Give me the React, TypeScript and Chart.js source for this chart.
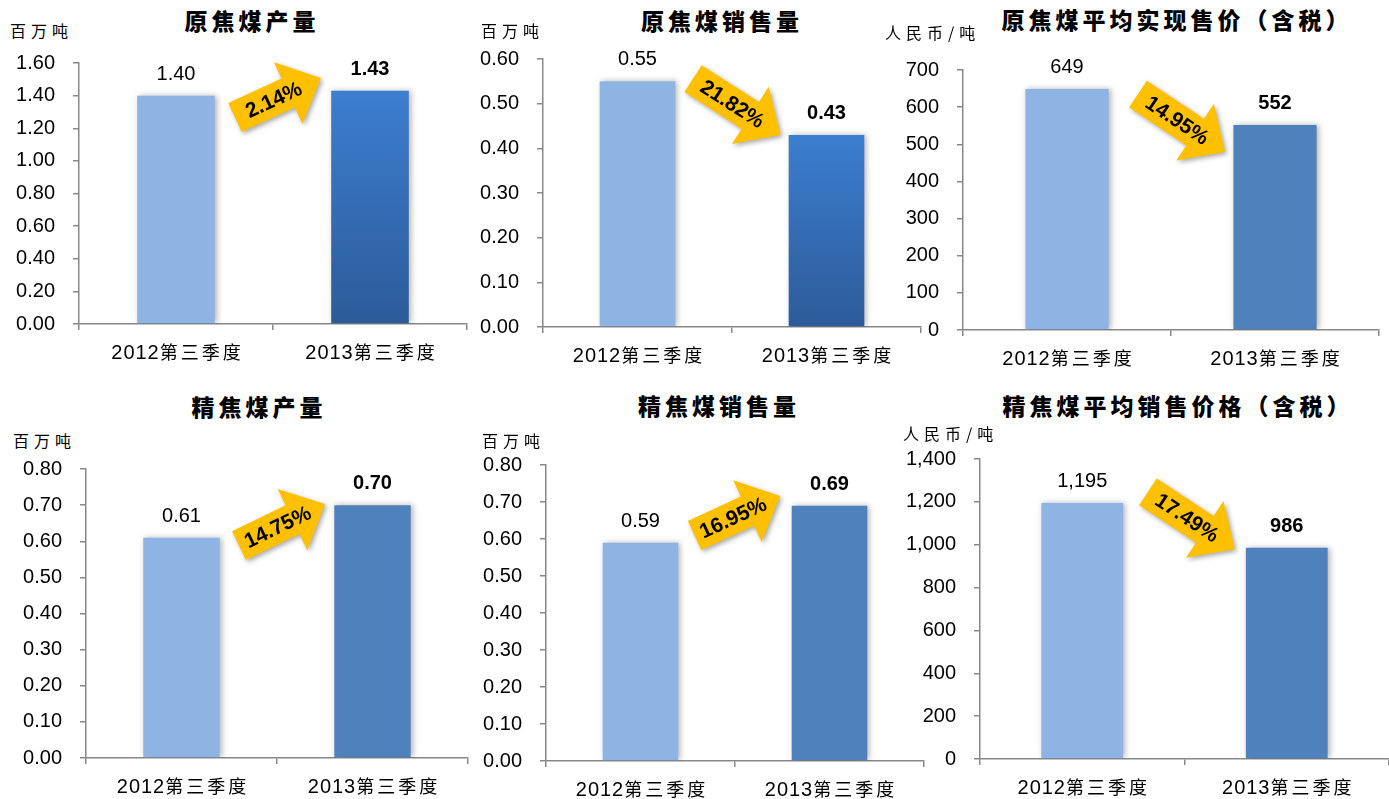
import React, { useEffect, useRef } from 'react';
import { Chart, registerables } from 'chart.js';

Chart.register(...registerables);

// ---------- data ----------
const categories = ['2012第三季度', '2013第三季度'];

const rawCoalOutput = [1.4, 1.43];
const rawCoalSales = [0.55, 0.43];
const rawCoalPrice = [649, 552];
const cleanCoalOutput = [0.61, 0.7];
const cleanCoalSales = [0.59, 0.69];
const cleanCoalPrice = [1195, 986];

const changeLabels = ['2.14%', '21.82%', '14.95%', '14.75%', '16.95%', '17.49%'];

const ticksRawOutput = ['0.00', '0.20', '0.40', '0.60', '0.80', '1.00', '1.20', '1.40', '1.60'];
const ticksRawSales = ['0.00', '0.10', '0.20', '0.30', '0.40', '0.50', '0.60'];
const ticksRawPrice = ['0', '100', '200', '300', '400', '500', '600', '700'];
const ticksClean = ['0.00', '0.10', '0.20', '0.30', '0.40', '0.50', '0.60', '0.70', '0.80'];
const ticksCleanPrice = ['0', '200', '400', '600', '800', '1,000', '1,200', '1,400'];

const titles = [
  '原焦煤产量',
  '原焦煤销售量',
  '原焦煤平均实现售价（含税）',
  '精焦煤产量',
  '精焦煤销售量',
  '精焦煤平均销售价格（含税）',
];
const units = ['百万吨', '百万吨', '人民币/吨', '百万吨', '百万吨', '人民币/吨'];

// arrow annotation anchors in data units: [tailIndex, tailValue, tipIndex, tipValue]
const arrowAnchors = [
  [0.304, 1.266, 0.747, 1.508],
  [0.294, 0.556, 0.757, 0.43],
  [0.341, 635, 0.76, 479],
  [0.301, 0.588, 0.751, 0.703],
  [0.286, 0.6095, 0.739, 0.716],
  [0.321, 1247, 0.746, 979],
];

// ---------- layout / styles ----------
type Layout = {
  axisX: number; right: number; top: number; zero: number;
  titleX: number; titleY: number; unitX: number; unitY: number;
};
const layouts: Layout[] = [
  { axisX: 79, right: 467, top: 63, zero: 324, titleX: 250, titleY: 20, unitX: 10, unitY: 30 },
  { axisX: 543, right: 921, top: 59, zero: 327, titleX: 720, titleY: 20, unitX: 481, unitY: 30 },
  { axisX: 963, right: 1379, top: 70, zero: 330, titleX: 1175, titleY: 19, unitX: 885, unitY: 32 },
  { axisX: 86, right: 468, top: 469, zero: 758, titleX: 257, titleY: 406, unitX: 13, unitY: 440 },
  { axisX: 546, right: 924, top: 465, zero: 761, titleX: 717, titleY: 405, unitX: 482, unitY: 440 },
  { axisX: 980, right: 1389, top: 459, zero: 759, titleX: 1176, titleY: 405, unitX: 903, unitY: 433 },
];

type Spec = {
  values: number[]; max: number; step: number; ticks: string[];
  decimals: number; gradient: boolean;
};
const specs: Spec[] = [
  { values: rawCoalOutput, max: 1.6, step: 0.2, ticks: ticksRawOutput, decimals: 2, gradient: true },
  { values: rawCoalSales, max: 0.6, step: 0.1, ticks: ticksRawSales, decimals: 2, gradient: true },
  { values: rawCoalPrice, max: 700, step: 100, ticks: ticksRawPrice, decimals: 0, gradient: false },
  { values: cleanCoalOutput, max: 0.8, step: 0.1, ticks: ticksClean, decimals: 2, gradient: false },
  { values: cleanCoalSales, max: 0.8, step: 0.1, ticks: ticksClean, decimals: 2, gradient: false },
  { values: cleanCoalPrice, max: 1400, step: 200, ticks: ticksCleanPrice, decimals: 0, gradient: false },
];

const LATIN = '"Liberation Sans", Arial, Helvetica, sans-serif';
const CJK = '"Noto Sans CJK SC", "Noto Sans", sans-serif';
const AXIS_COLOR = '#888888';
const BAR_LIGHT = '#8EB4E3';
const BAR_DARK = '#4F81BD';
const ARROW_COLOR = '#FFC000';
const YW = 76;
const PT = 16;
const XH = 40;

function fmt(v: number, decimals: number) {
  return decimals > 0
    ? v.toFixed(decimals)
    : v.toLocaleString('en-US');
}

function PanelChart({ index }: { index: number }) {
  const ref = useRef<HTMLCanvasElement | null>(null);
  const L = layouts[index];
  const S = specs[index];
  const PR = L.right >= 1389 ? 0 : 4;
  const left = L.axisX - YW;
  const top = L.top - PT;
  const width = YW + (L.right - L.axisX) + PR;
  const height = PT + (L.zero - L.top) + XH;

  useEffect(() => {
    if (!ref.current) return;
    const anchors = arrowAnchors[index];
    const change = changeLabels[index];

    const overlay = {
      id: 'overlay' + index,
      beforeDatasetsDraw(chart: any) {
        const c = chart.ctx;
        c.save();
        c.shadowColor = 'rgba(0,0,0,0.30)';
        c.shadowBlur = 6;
        c.shadowOffsetX = 2;
        c.shadowOffsetY = 0;
      },
      afterDatasetsDraw(chart: any) {
        chart.ctx.restore();
      },
      afterDraw(chart: any) {
        const c = chart.ctx as CanvasRenderingContext2D & { letterSpacing?: string };
        const xs = chart.scales.x;
        const ys = chart.scales.y;
        const meta = chart.getDatasetMeta(0);

        // value labels
        c.save();
        c.fillStyle = '#000';
        c.textAlign = 'center';
        c.textBaseline = 'alphabetic';
        meta.data.forEach((bar: any, i: number) => {
          c.font = (i === 1 ? 'bold ' : '') + '20px ' + LATIN;
          c.fillText(fmt(S.values[i], S.decimals), bar.x, bar.y - 16);
        });
        c.restore();

        // category labels
        c.save();
        c.fillStyle = '#000';
        c.textAlign = 'left';
        c.textBaseline = 'alphabetic';
        const baseY = xs.top + 27.5 + 7;
        categories.forEach((lab, i) => {
          const cx = xs.getPixelForValue(i);
          const m = lab.match(/^(\d+)(.*)$/);
          const a = m ? m[1] : '';
          const b = m ? m[2] : lab;
          c.font = '20px ' + LATIN;
          c.letterSpacing = '1px';
          const wa = c.measureText(a).width;
          c.font = '18px ' + CJK;
          c.letterSpacing = '3px';
          const wb = c.measureText(b).width - 3;
          const x0 = cx - (wa + wb) / 2;
          c.font = '20px ' + LATIN;
          c.letterSpacing = '1px';
          c.fillText(a, x0, baseY);
          c.font = '18px ' + CJK;
          c.letterSpacing = '3px';
          c.fillText(b, x0 + wa, baseY);
        });
        c.letterSpacing = '0px';
        c.restore();

        // change arrow
        const tx = xs.getPixelForValue(anchors[0]);
        const ty = ys.getPixelForValue(anchors[1]);
        const px = xs.getPixelForValue(anchors[2]);
        const py = ys.getPixelForValue(anchors[3]);
        const ang = Math.atan2(py - ty, px - tx);
        const len = Math.hypot(px - tx, py - ty);
        const bw = 32;
        const hw = 68;
        const hl = 36;
        c.save();
        c.translate(tx, ty);
        c.rotate(ang);
        c.beginPath();
        c.moveTo(0, -bw / 2);
        c.lineTo(len - hl, -bw / 2);
        c.lineTo(len - hl, -hw / 2);
        c.lineTo(len, 0);
        c.lineTo(len - hl, hw / 2);
        c.lineTo(len - hl, bw / 2);
        c.lineTo(0, bw / 2);
        c.closePath();
        c.shadowColor = 'rgba(0,0,0,0.35)';
        c.shadowBlur = 5;
        c.shadowOffsetX = 2;
        c.shadowOffsetY = 2;
        c.fillStyle = ARROW_COLOR;
        c.fill();
        c.shadowColor = 'rgba(0,0,0,0)';
        c.shadowBlur = 0;
        c.shadowOffsetX = 0;
        c.shadowOffsetY = 0;
        c.fillStyle = '#000';
        c.font = 'bold 21px ' + LATIN;
        c.textAlign = 'center';
        c.textBaseline = 'middle';
        c.fillText(change, len * 0.45, 1);
        c.restore();
      },
    };

    const chart = new Chart(ref.current, {
      type: 'bar',
      data: {
        labels: categories,
        datasets: [
          {
            data: S.values,
            backgroundColor: (ctx: any) => {
              if (ctx.dataIndex === 0) return BAR_LIGHT;
              if (!S.gradient) return BAR_DARK;
              const ch = ctx.chart;
              const area = ch.chartArea;
              const ys = ch.scales && ch.scales.y;
              if (!area || !ys) return '#3572BF';
              const yTop = ys.getPixelForValue(ctx.raw as number);
              const g = ch.ctx.createLinearGradient(0, yTop, 0, area.bottom);
              g.addColorStop(0, '#3C7ED0');
              g.addColorStop(1, '#2D5B99');
              return g;
            },
            borderWidth: 0,
            barPercentage: 0.4,
            categoryPercentage: 1.0,
          },
        ],
      },
      options: {
        animation: false,
        responsive: true,
        maintainAspectRatio: false,
        events: [],
        layout: { padding: { top: PT, right: PR, bottom: 0, left: 0 } },
        plugins: {
          legend: { display: false },
          title: { display: false },
          tooltip: { enabled: false },
        },
        scales: {
          x: {
            type: 'category',
            offset: true,
            grid: {
              display: true,
              offset: true,
              drawOnChartArea: false,
              drawTicks: true,
              tickLength: 6,
              color: AXIS_COLOR,
              lineWidth: 1.5,
            },
            border: { display: true, color: AXIS_COLOR, width: 1.5 },
            ticks: { display: false },
            afterFit: (axis: any) => {
              axis.height = XH;
              axis.paddingLeft = 0;
              axis.paddingRight = 0;
              axis.paddingTop = 0;
              axis.paddingBottom = 0;
            },
          },
          y: {
            min: 0,
            max: S.max,
            ticks: {
              stepSize: S.step,
              padding: 18,
              color: '#000',
              font: { family: LATIN, size: 20 },
              callback: (v: any, i: number) => S.ticks[i] ?? String(v),
            },
            grid: {
              display: true,
              drawOnChartArea: false,
              drawTicks: true,
              tickLength: 6,
              color: AXIS_COLOR,
              lineWidth: 1.5,
            },
            border: { display: true, color: AXIS_COLOR, width: 1.5 },
            afterFit: (axis: any) => {
              axis.width = YW;
              axis.paddingTop = 0;
              axis.paddingBottom = 0;
              axis.paddingLeft = 0;
              axis.paddingRight = 0;
            },
          },
        },
      },
      plugins: [overlay],
    } as any);

    return () => chart.destroy();
  }, [index]);

  return (
    <>
      <div style={{ position: 'absolute', left, top, width, height }}>
        <canvas ref={ref} />
      </div>
      <div
        style={{
          position: 'absolute',
          left: L.titleX,
          top: L.titleY,
          transform: 'translate(-50%, -50%)',
          whiteSpace: 'nowrap',
          fontFamily: CJK,
          fontWeight: 900,
          fontSize: 23,
          letterSpacing: 4,
          paddingLeft: 4,
          lineHeight: 1,
          color: '#000',
        }}
      >
        {titles[index]}
      </div>
      <div
        style={{
          position: 'absolute',
          left: L.unitX,
          top: L.unitY,
          transform: 'translateY(-50%)',
          whiteSpace: 'nowrap',
          fontFamily: CJK,
          fontSize: 16,
          letterSpacing: 5,
          lineHeight: 1,
          color: '#000',
        }}
      >
        {units[index]}
      </div>
    </>
  );
}

export default function App() {
  return (
    <div
      style={{
        position: 'absolute',
        left: 0,
        top: 0,
        width: 1389,
        height: 799,
        overflow: 'hidden',
        background: '#ffffff',
      }}
    >
      {layouts.map((_, i) => (
        <PanelChart key={i} index={i} />
      ))}
    </div>
  );
}
